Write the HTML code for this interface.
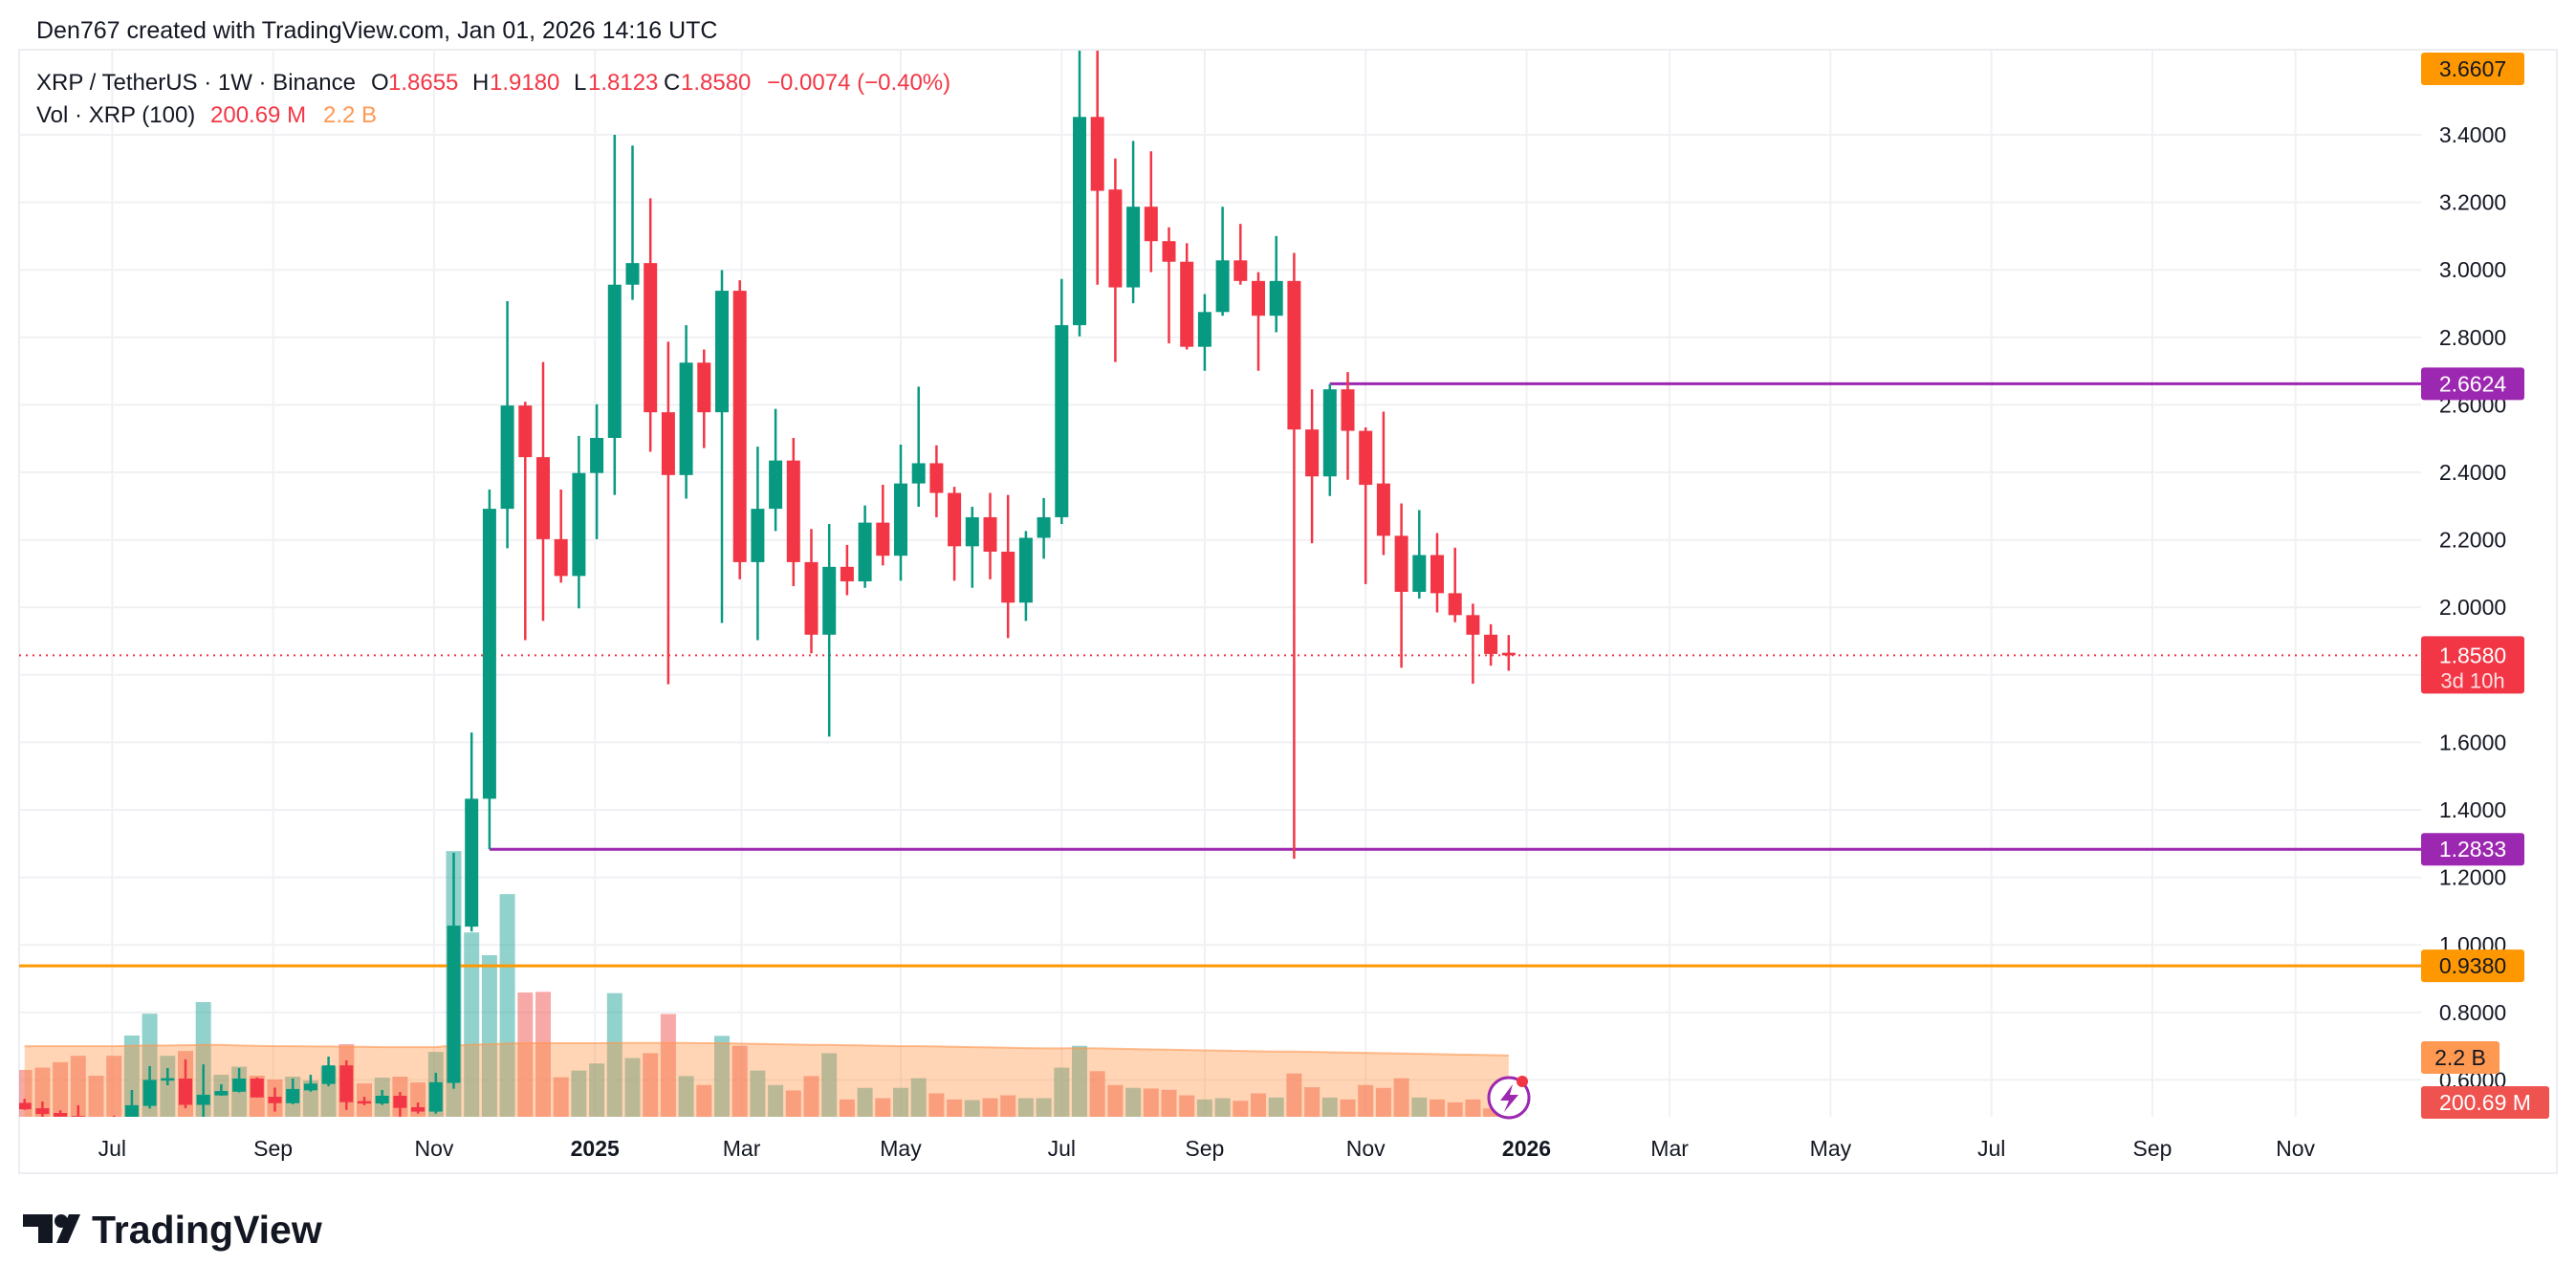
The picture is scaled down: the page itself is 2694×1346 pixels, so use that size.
<!DOCTYPE html>
<html><head><meta charset="utf-8">
<style>
html,body{margin:0;padding:0;background:#fff;}
body{width:2694px;height:1346px;overflow:hidden;position:relative;font-family:"Liberation Sans",sans-serif;}
#chart{position:absolute;left:0;top:0;}
</style></head>
<body>
<svg id="chart" width="2694" height="1346" xmlns="http://www.w3.org/2000/svg">
<defs><clipPath id="plot"><rect x="20" y="53" width="2512" height="1115"/></clipPath></defs>
<text x="38" y="40" font-size="25" fill="#131722">Den767 created with TradingView.com, Jan 01, 2026 14:16 UTC</text>
<rect x="20" y="52" width="2654" height="1175" fill="none" stroke="#ebedf1" stroke-width="2"/>
<g id="grid"></g>
<g id="vol" clip-path="url(#plot)"></g>
<g id="levels"></g>
<g id="candles" clip-path="url(#plot)"></g>
<g id="axis"></g>
<g id="taxis"></g>
<g font-size="24">
<text x="38" y="94" fill="#131722">XRP / TetherUS · 1W · Binance</text>
<text x="388" y="94" fill="#131722">O</text><text x="406" y="94" fill="#f23645">1.8655</text>
<text x="494" y="94" fill="#131722">H</text><text x="512" y="94" fill="#f23645">1.9180</text>
<text x="600" y="94" fill="#131722">L</text><text x="615" y="94" fill="#f23645">1.8123</text>
<text x="694" y="94" fill="#131722">C</text><text x="712" y="94" fill="#f23645">1.8580</text>
<text x="802" y="94" fill="#f23645">−0.0074 (−0.40%)</text>
<text x="38" y="128" fill="#131722">Vol · XRP (100)</text>
<text x="220" y="128" fill="#f23645">200.69 M</text>
<text x="338" y="128" fill="#ff9850">2.2 B</text>
</g>
<g>
<circle cx="1578" cy="1148" r="21" fill="#fff" stroke="#9c27b0" stroke-width="3"/>
<path d="M1582 1134 L1569 1151 L1578 1151 L1573 1163 L1588 1145 L1579 1145 Z" fill="#9c27b0"/>
<circle cx="1592" cy="1131" r="6" fill="#f23645"/>
</g>
<g>
<path d="M24 1270 H55 V1300 H40 V1283 H24 Z" fill="#131722"/>
<circle cx="64" cy="1277" r="7" fill="#131722"/>
<path d="M72 1270 H84 L71 1300 H59 Z" fill="#131722"/>
<text x="96" y="1300" font-size="41" font-weight="bold" fill="#131722">TradingView</text>
</g>
</svg>
<script>
const opens=[.532,.516,.502,.493,.48,.45,.485,.523,.600,.604,.526,.554,.565,.604,.550,.531,.569,.588,.643,.537,.53,.553,.519,.506,.591,1.054,1.433,2.292,2.598,2.445,2.202,2.093,2.398,2.502,2.956,3.02,2.578,2.392,2.725,2.578,2.938,2.134,2.292,2.435,2.134,1.919,2.12,2.077,2.251,2.153,2.367,2.427,2.339,2.181,2.267,2.165,2.014,2.206,2.267,2.836,3.453,3.238,2.948,3.187,3.085,3.024,2.772,2.875,3.028,2.967,2.864,2.967,2.527,2.388,2.646,2.523,2.367,2.212,2.046,2.155,2.042,1.977,1.919,1.8655];
const highs=[.544,.536,.510,.525,.49,.494,.57,.641,.635,.661,.646,.587,.635,.607,.577,.604,.615,.669,.658,.55,.57,.564,.533,.621,1.273,1.629,2.349,2.907,2.609,2.727,2.349,2.508,2.602,3.40,3.368,3.212,2.787,2.836,2.764,2.999,2.969,2.476,2.588,2.502,2.232,2.247,2.185,2.302,2.363,2.482,2.654,2.48,2.357,2.298,2.339,2.333,2.226,2.324,2.973,3.66,3.66,3.33,3.382,3.351,3.126,3.079,2.928,3.187,3.136,2.993,3.1,3.05,2.646,2.662,2.697,2.533,2.58,2.308,2.288,2.22,2.177,2.011,1.95,1.918];
const lows=[.511,.485,.485,.47,.42,.40,.47,.515,.584,.516,.48,.553,.563,.548,.506,.528,.565,.581,.511,.525,.526,.49,.5,.50,.574,1.04,1.2833,2.175,1.903,1.96,2.073,1.997,2.202,2.333,2.911,2.461,1.772,2.322,2.472,1.954,2.083,1.903,2.226,2.063,1.864,1.617,2.036,2.058,2.124,2.079,2.298,2.267,2.079,2.058,2.083,1.909,1.96,2.144,2.247,2.803,2.956,2.727,2.901,2.993,2.782,2.764,2.701,2.864,2.956,2.701,2.815,1.255,2.19,2.33,2.378,2.069,2.155,1.821,2.026,1.985,1.956,1.774,1.827,1.8123];
const closes=[.513,.499,.491,.48,.44,.43,.525,.600,.605,.526,.556,.567,.604,.548,.531,.573,.589,.643,.534,.533,.553,.517,.506,.593,1.057,1.433,2.292,2.598,2.445,2.202,2.093,2.398,2.502,2.956,3.02,2.578,2.392,2.725,2.578,2.938,2.134,2.292,2.435,2.134,1.919,2.12,2.077,2.251,2.153,2.367,2.427,2.339,2.181,2.267,2.165,2.014,2.206,2.267,2.836,3.453,3.234,2.948,3.187,3.085,3.024,2.772,2.875,3.028,2.967,2.864,2.967,2.527,2.388,2.646,2.523,2.363,2.212,2.046,2.155,2.042,1.977,1.919,1.862,1.858];
const volumes=[1.46,1.53,1.70,1.90,1.28,1.90,2.53,3.21,1.90,2.05,3.57,1.31,1.56,1.28,1.16,1.25,1.13,1.56,2.26,1.04,1.22,1.25,1.07,2.02,8.27,5.74,5.03,6.93,3.87,3.89,1.23,1.44,1.66,3.85,1.83,1.98,3.2,1.27,0.99,2.52,2.21,1.44,0.99,0.82,1.27,1.98,0.54,0.90,0.58,0.90,1.2,0.73,0.54,0.52,0.58,0.67,0.58,0.58,1.53,2.21,1.42,0.99,0.90,0.88,0.84,0.67,0.54,0.58,0.5,0.73,0.6,1.35,0.92,0.6,0.54,0.99,0.90,1.2,0.6,0.54,0.45,0.54,0.26,0.2];
const maVol=[2.2,2.2,2.2,2.2,2.2,2.2,2.21,2.22,2.22,2.23,2.24,2.24,2.22,2.21,2.2,2.2,2.19,2.19,2.18,2.18,2.17,2.17,2.17,2.17,2.22,2.24,2.26,2.28,2.29,2.29,2.29,2.29,2.29,2.3,2.3,2.3,2.3,2.3,2.29,2.29,2.28,2.27,2.26,2.25,2.24,2.24,2.23,2.22,2.21,2.2,2.2,2.19,2.18,2.17,2.16,2.15,2.14,2.13,2.13,2.14,2.13,2.12,2.11,2.1,2.09,2.08,2.07,2.06,2.05,2.04,2.03,2.03,2.02,2.01,2.0,1.99,1.98,1.97,1.96,1.95,1.94,1.93,1.92,1.91];
const priceTicks=["3.4000","3.2000","3.0000","2.8000","2.6000","2.4000","2.2000","2.0000","1.8000","1.6000","1.4000","1.2000","1.0000","0.8000","0.6000"];
const monthLabels=["Jul","Sep","Nov","2025","Mar","May","Jul","Sep","Nov","2026","Mar","May","Jul","Sep","Nov"];
const monthIdx=[4.9,13.9,22.9,31.9,40.1,49.0,58.0,66.0,75.0,84.0,92.0,101.0,110.0,119.0,127.0];
const levels=[2.6624,1.2833,0.9380];
const lastPrice=1.8580;

const NS="http://www.w3.org/2000/svg";
function el(tag,attrs,parent){const e=document.createElementNS(NS,tag);for(const k in attrs)e.setAttribute(k,attrs[k]);parent.appendChild(e);return e;}
const X=i=>25.7+i*18.7;
const Y=p=>141+(3.4-p)*353;
const VY=v=>1168-v*33.6;
const L=20,R=2532,T=53,B=1168;

const grid=document.getElementById('grid');
priceTicks.forEach(t=>{const y=Y(parseFloat(t));
  const g=el('line',{x1:L,x2:R,y1:y,y2:y,stroke:'#f0f1f4','stroke-width':2},grid);
  
  
});
monthIdx.forEach(i=>{const x=X(i);
  const g=el('line',{x1:x,x2:x,y1:T,y2:B,stroke:'#f0f1f4','stroke-width':2},grid);
  
  
});

const vol=document.getElementById('vol');
volumes.forEach((v,i)=>{const up=closes[i]>=opens[i];
  const r=el('rect',{x:X(i)-8,y:VY(v),width:16,height:B-VY(v),fill:up?'rgba(38,166,154,0.5)':'rgba(239,83,80,0.5)'},vol);
  
  
});
let d='M'+X(0)+' '+B;
maVol.forEach((v,i)=>{d+=' L'+X(i)+' '+VY(v);});
d+=' L'+X(maVol.length-1)+' '+B+' Z';
const ma=el('path',{d:d,fill:'rgba(255,145,60,0.38)'},vol);


let d2='M'+X(0)+' '+VY(maVol[0]);
maVol.forEach((v,i)=>{d2+=' L'+X(i)+' '+VY(v);});
const mal=el('path',{d:d2,fill:'none',stroke:'rgba(255,150,80,0.6)','stroke-width':2},vol);



const lv=document.getElementById('levels');
const orange=el('line',{x1:L,x2:R,y1:Y(levels[2]),y2:Y(levels[2]),stroke:'#ff9800','stroke-width':3},lv);


const p1=el('line',{x1:X(26),x2:R,y1:Y(levels[1]),y2:Y(levels[1]),stroke:'#9c27b0','stroke-width':3},lv);


const p2=el('line',{x1:X(73),x2:R,y1:Y(levels[0]),y2:Y(levels[0]),stroke:'#9c27b0','stroke-width':3},lv);


const lp=el('line',{x1:L,x2:R,y1:Y(lastPrice),y2:Y(lastPrice),stroke:'#f23645','stroke-width':2,'stroke-dasharray':'2 5'},lv);



const cg=document.getElementById('candles');
opens.forEach((o,i)=>{const c=closes[i],up=c>=o,col=up?'#089981':'#f23645',x=X(i);
  const w=el('line',{x1:x,x2:x,y1:Y(highs[i]),y2:Y(lows[i]),stroke:col,'stroke-width':2.5},cg);
  
  
  const top=Y(Math.max(o,c)),bot=Y(Math.min(o,c));
  const b=el('rect',{x:x-7,y:top,width:14,height:Math.max(2.5,bot-top),fill:col},cg);
  
  
});

const ax=document.getElementById('axis');
priceTicks.forEach(t=>{
  const tx=el('text',{x:2586,y:Y(parseFloat(t))+8,'font-size':23,fill:'#131722','text-anchor':'middle'},ax);
  tx.textContent=t;
  
  
});
const boxes=[
 {v:'3.6607',y:72,bg:'#ff9800',fg:'#131722',w:108,n:'high-price-label'},
 {v:'2.6624',y:Y(2.6624),bg:'#9c27b0',fg:'#fff',w:108,n:'resistance-price-label'},
 {v:'1.2833',y:Y(1.2833),bg:'#9c27b0',fg:'#fff',w:108,n:'support-price-label'},
 {v:'0.9380',y:Y(0.938),bg:'#ff9800',fg:'#131722',w:108,n:'orange-level-label'},
 {v:'2.2 B',y:1106,bg:'#ff9850',fg:'#131722',w:82,n:'volume-ma-label'},
 {v:'200.69 M',y:1153,bg:'#ef5350',fg:'#fff',w:134,n:'volume-label'}];
boxes.forEach(b=>{
  const r=el('rect',{x:2532,y:b.y-17,width:b.w,height:34,rx:3,fill:b.bg},ax);
  
  
  const t=el('text',{x:2532+b.w/2,y:b.y+8,'font-size':23,fill:b.fg,'text-anchor':'middle'},ax);
  t.textContent=b.v;
  
  
});
const ly=Y(lastPrice);
const lr=el('rect',{x:2532,y:ly-20,width:108,height:60,rx:3,fill:'#f23645'},ax);


const lt=el('text',{x:2586,y:ly+8,'font-size':23,fill:'#fff','text-anchor':'middle'},ax);
lt.textContent=lastPrice.toFixed(4);


const lt2=el('text',{x:2586,y:ly+34,'font-size':22,fill:'#fde0e2','text-anchor':'middle'},ax);
lt2.textContent='3d 10h';



const ta=document.getElementById('taxis');
monthLabels.forEach((m,i)=>{
  const t=el('text',{x:X(monthIdx[i]),y:1209,'font-size':23,fill:'#131722','text-anchor':'middle','font-weight':/^\d/.test(m)?'bold':'normal'},ta);
  t.textContent=m;
  
  
});
</script>
</body></html>
